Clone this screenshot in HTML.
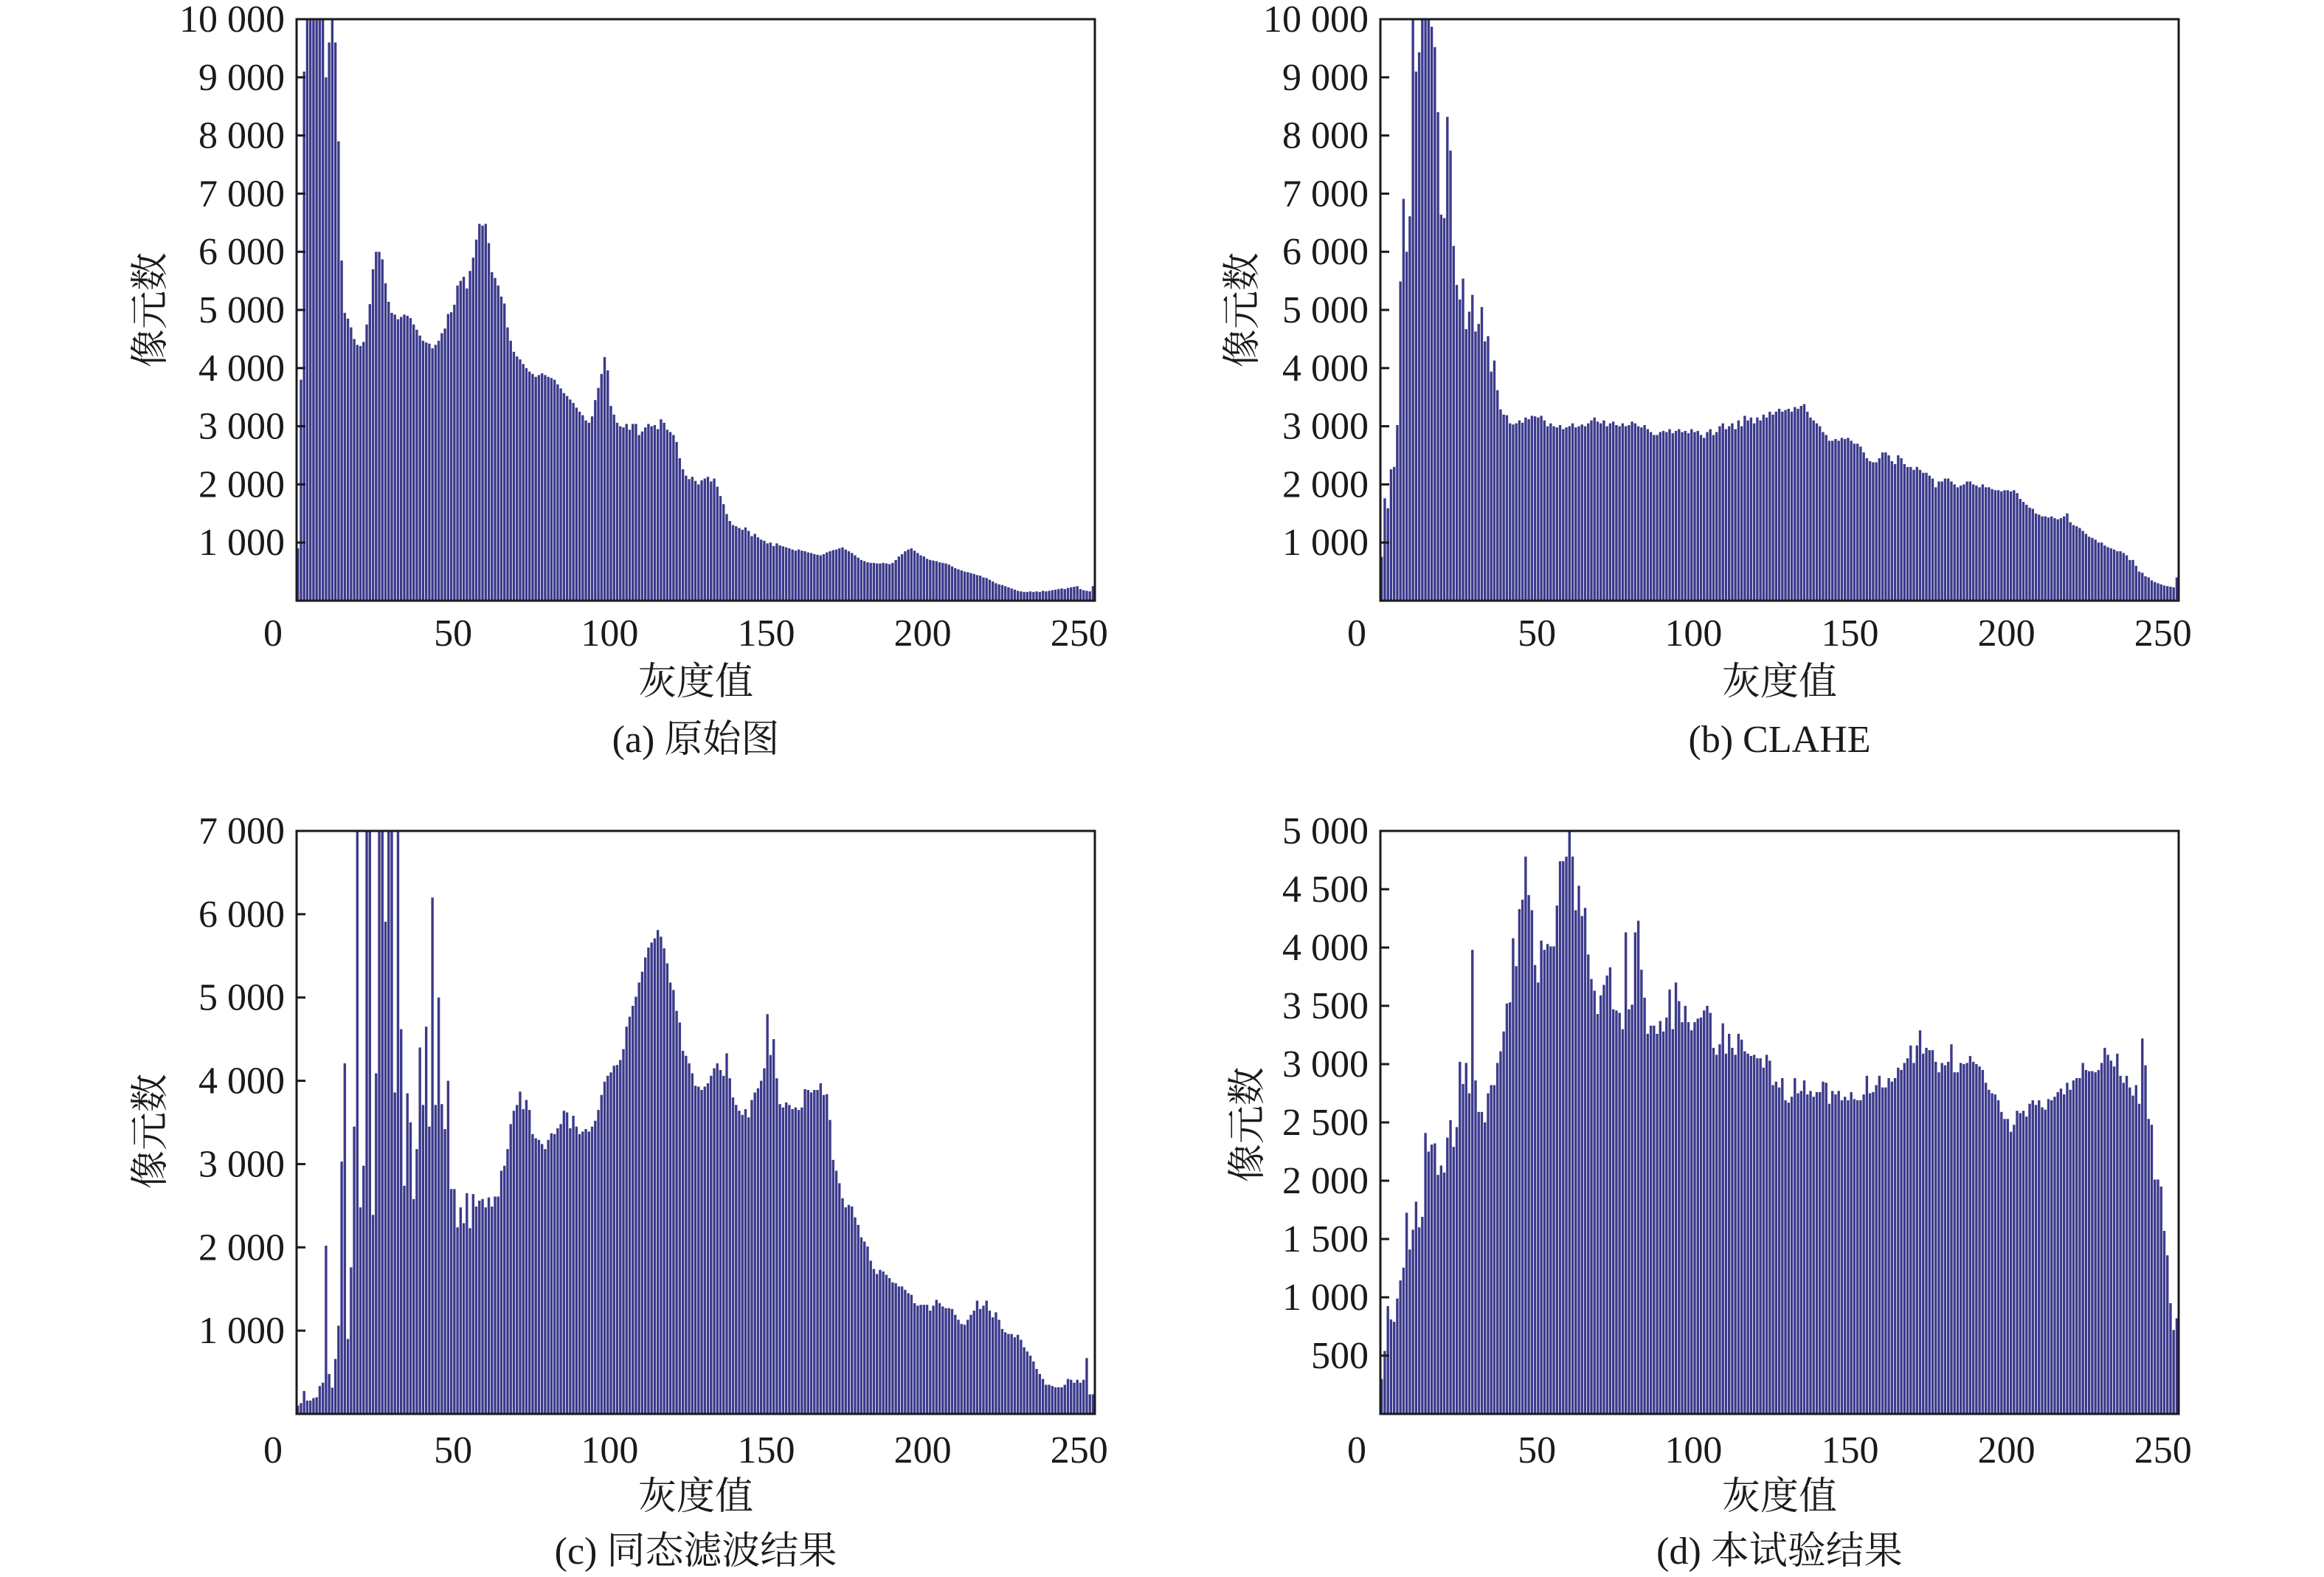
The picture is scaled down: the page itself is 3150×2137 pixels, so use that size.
<!DOCTYPE html>
<html><head><meta charset="utf-8">
<style>
html,body{margin:0;padding:0;background:#fff;}
svg{display:block;}
text{font-family:"Liberation Serif","Noto Serif CJK SC","Noto Sans CJK SC",serif;fill:#1a1a1a;}
</style></head>
<body>
<svg id="fig" width="3150" height="2137" viewBox="0 0 3150 2137" xmlns="http://www.w3.org/2000/svg"></svg>
<script>
// ---- data (pixel counts per gray level 0..255) ----
const grayLevels = Array.from({length:256},(_,i)=>i);
const originalCounts = [
900,3800,9100,10500,10500,10500,10500,10500,10500,9000,
9600,10500,9600,7900,5850,4950,4850,4700,4500,4400,
4380,4450,4750,5100,5700,6000,6000,5870,5460,5140,
4950,4920,4840,4880,4920,4900,4860,4750,4660,4560,
4470,4440,4420,4340,4400,4470,4600,4680,4930,4960,
5090,5420,5500,5570,5370,5670,5900,6210,6480,6450,
6480,6150,5650,5550,5420,5230,5110,4700,4470,4280,
4200,4150,4070,4000,3940,3900,3850,3880,3910,3880,
3850,3830,3800,3720,3650,3570,3520,3460,3400,3320,
3250,3190,3100,3060,3170,3450,3660,3900,4190,3960,
3350,3200,3060,3000,2980,3040,2940,3040,3040,2850,
2910,2980,3040,3000,3020,2950,3120,3060,2940,2900,
2850,2730,2450,2260,2150,2090,2130,2060,2000,2070,
2100,2130,2050,2100,1960,1800,1660,1490,1370,1300,
1280,1250,1220,1260,1200,1110,1150,1090,1050,1030,
985,1000,940,985,950,935,917,900,880,860,
880,860,850,830,820,800,790,780,800,830,
850,870,880,900,917,880,850,820,780,740,
700,680,660,650,650,640,640,650,640,630,
650,700,760,800,850,880,900,860,820,780,
760,720,700,690,680,660,650,640,620,590,
560,540,520,500,490,475,460,440,430,400,
390,360,330,300,280,270,250,230,210,190,
170,160,150,150,160,150,160,150,170,160,
170,180,190,200,210,200,220,230,240,250,
200,180,170,160,250,800];
const claheCounts = [
755,1760,1590,2260,2300,3020,5490,6910,6000,6610,
10500,9100,9430,10500,10500,10500,9870,9520,8400,6640,
6580,8320,7740,6100,5430,5180,5540,4670,4970,5260,
4630,4760,5050,4460,4550,3940,4130,3620,3290,3200,
3190,3050,3030,3050,3100,3060,3150,3120,3180,3170,
3150,3180,3100,3000,3050,3000,2980,3020,2950,2980,
3000,3050,2980,3000,3030,3000,3050,3100,3150,3080,
3050,3100,3000,3050,3080,3020,3000,3050,3000,3020,
3080,3050,3000,2980,3020,2950,2900,2850,2850,2900,
2920,2900,2950,2880,2920,2950,2900,2920,2880,2950,
2900,2920,2850,2800,2900,2950,2850,2900,3000,3050,
2950,3000,3050,2950,3100,3000,3180,3100,3150,3050,
3150,3100,3200,3150,3250,3200,3250,3300,3250,3280,
3300,3250,3330,3300,3350,3380,3250,3150,3100,3050,
3000,2900,2850,2750,2750,2780,2750,2800,2780,2800,
2750,2700,2700,2650,2550,2450,2400,2380,2380,2450,
2550,2550,2500,2400,2350,2500,2450,2350,2300,2300,
2250,2300,2250,2200,2200,2150,2100,1950,2050,2050,
2100,2100,2050,2000,1950,1980,2000,2050,2050,2000,
1980,1950,2000,1950,1950,1920,1900,1900,1880,1900,
1900,1880,1900,1850,1750,1700,1650,1600,1580,1500,
1480,1450,1450,1430,1450,1420,1400,1420,1450,1500,
1350,1300,1280,1250,1200,1150,1100,1080,1050,1000,
1000,950,920,900,880,850,850,820,780,700,
700,600,500,480,420,400,350,320,300,280,
260,250,240,230,400,1000];
const homomorphicCounts = [
100,130,275,160,160,190,200,335,375,2020,
480,315,660,1060,3030,4210,900,1760,3450,7500,
2480,2980,7500,7500,2390,4090,7500,7500,5910,7500,
7500,3860,7500,4620,2740,3850,3500,2580,3180,4400,
3710,4650,3450,6200,3710,5000,3720,3420,4000,2700,
2700,2240,2480,2290,2650,2230,2640,2490,2560,2580,
2480,2600,2490,2610,2610,2920,2980,3180,3480,3640,
3710,3870,3660,3770,3650,3360,3310,3290,3240,3180,
3290,3370,3360,3430,3480,3640,3620,3430,3580,3450,
3360,3390,3420,3390,3450,3520,3650,3830,3990,4060,
4100,4180,4190,4250,4380,4650,4770,4900,5010,5180,
5310,5480,5600,5660,5710,5810,5730,5590,5410,5180,
5090,4840,4700,4360,4300,4210,4090,3940,3930,3890,
3930,3970,4060,4150,4210,4130,4060,4330,4030,3800,
3710,3640,3590,3660,3560,3770,3860,3910,4000,4150,
4800,4310,4500,4030,3720,3680,3740,3710,3660,3680,
3650,3680,3900,3890,3860,3890,3890,3970,3830,3840,
3530,3050,2920,2770,2590,2480,2510,2490,2360,2270,
2120,2070,2010,1840,1740,1680,1730,1710,1670,1630,
1580,1570,1530,1530,1490,1450,1430,1330,1300,1310,
1310,1310,1240,1300,1370,1330,1290,1270,1270,1260,
1190,1130,1080,1070,1130,1190,1240,1360,1260,1300,
1360,1240,1160,1220,1130,1020,980,960,960,920,
950,890,800,750,700,630,540,480,420,350,
350,335,320,320,320,350,420,410,375,410,
375,410,670,235,235,150];
const proposedCounts = [
300,540,925,810,790,990,1145,1255,1725,1410,
1580,1820,1600,1690,2410,2250,2310,2320,2050,2130,
2070,2370,2520,2290,2460,3020,2830,3010,2750,3980,
2860,2590,2590,2500,2750,2820,2820,3010,3110,3280,
3520,3530,4080,3840,4330,4410,4780,4450,4320,3850,
3700,4060,3980,4030,4010,4010,4360,4740,4740,4780,
5100,4780,4320,4530,4270,4340,3940,3730,3630,3430,
3590,3680,3760,3830,3470,3460,3440,3300,4130,3470,
3510,4130,4230,3810,3570,3260,3330,3330,3260,3370,
3280,3400,3640,3300,3700,3540,3360,3500,3360,3290,
3360,3390,3400,3460,3500,3440,3140,3080,3170,3350,
3090,3260,3140,3080,3260,3210,3110,3090,3070,3080,
3050,3050,2970,3080,3030,2820,2850,2800,2880,2690,
2670,2720,2880,2750,2770,2860,2740,2770,2720,2760,
2760,2850,2840,2660,2770,2740,2770,2690,2720,2690,
2760,2700,2690,2690,2740,2900,2750,2760,2820,2900,
2800,2800,2880,2850,2880,2970,2950,3010,3050,3160,
3010,3160,3290,3090,3140,3120,3120,3020,2930,3010,
2990,3020,3170,2930,2930,3010,3000,3010,3070,3020,
3000,2980,2950,2840,2780,2750,2740,2690,2590,2530,
2530,2420,2480,2600,2580,2600,2550,2660,2690,2650,
2690,2630,2610,2700,2690,2720,2760,2790,2740,2840,
2780,2860,2880,2880,3010,2950,2940,2940,2930,2950,
3010,3140,3080,3030,2980,3090,2900,2840,2900,2800,
2730,2820,2660,3220,2990,2530,2480,2010,2010,1950,
1570,1360,950,720,820,1660];
const xTicks = [0,50,100,150,200,250];
const yTicksA = [1000,2000,3000,4000,5000,6000,7000,8000,9000,10000];
const yTicksC = [1000,2000,3000,4000,5000,6000,7000];
const yTicksD = [500,1000,1500,2000,2500,3000,3500,4000,4500,5000];

const NS="http://www.w3.org/2000/svg";
const svg=document.getElementById('fig');
function mk(tag,attrs,parent){const e=document.createElementNS(NS,tag);for(const k in attrs)e.setAttribute(k,attrs[k]);(parent||svg).appendChild(e);return e;}
function fmt(v){const s=String(v);return s.length>3?s.slice(0,s.length-3)+' '+s.slice(-3):s;}

function panel(cfg){
  const g=mk('g',{});
  
  
  const X0=cfg.x,Y0=cfg.y,W=1082,H=cfg.h;
  const xs=v=>X0+v*W/255;
  const ys=v=>Y0+H-Math.min(v,cfg.ymax)*H/cfg.ymax;
  const bw=W/255;
  const clipId='clip'+cfg.key;
  const cp=mk('clipPath',{id:clipId},g);
  mk('rect',{x:X0,y:Y0,width:W,height:H},cp);
  const bars=mk('g',{'clip-path':'url(#'+clipId+')'},g);
  
  
  cfg.values.forEach((v,i)=>{
    const r=mk('rect',{x:xs(grayLevels[i]).toFixed(2),y:ys(v).toFixed(2),width:(bw*0.8).toFixed(2),height:(Y0+H-ys(v)).toFixed(2),fill:'#3b3a8b'},bars);
    
    
  });
  const fr=mk('rect',{x:X0,y:Y0,width:W,height:H,fill:'none',stroke:'#1a1a1a','stroke-width':3},g);
  
  
  cfg.yticks.forEach(t=>{
    const y=ys(t);
    const tk=mk('line',{x1:X0,x2:X0+12,y1:y,y2:y,stroke:'#1a1a1a','stroke-width':3},g);
    
    
    const tx=mk('text',{x:X0-16,y:y+17,'font-size':52,'text-anchor':'end'},g);
    tx.textContent=fmt(t);
    
    
  });
  xTicks.forEach(t=>{
    const x=t===0?xs(t)-32:xs(t);
    const tx=mk('text',{x:x,y:cfg.tickY+18,'font-size':52,'text-anchor':'middle'},g);
    tx.textContent=String(t);
    
    
  });
  const xt=mk('text',{x:X0+W/2,y:cfg.titleY+19,'font-size':52,'text-anchor':'middle'},g);
  xt.textContent='灰度值';
  
  
  const yt=mk('text',{x:0,y:0,'font-size':52,'text-anchor':'middle',transform:'translate('+(cfg.ylabX+18)+','+cfg.ylabY+') rotate(-90)'},g);
  yt.textContent='像元数';
  
  
  const cap=mk('text',{x:X0+W/2,y:cfg.capY+19,'font-size':52,'text-anchor':'middle'},g);
  cap.textContent=cfg.caption;
  
  
}
panel({key:'a',name:'panel-original',x:402,y:26,h:788,ymax:10000,values:originalCounts,yticks:yTicksA,tickY:857,titleY:922,capY:1000,ylabX:203,ylabY:420,caption:'(a) 原始图'});
panel({key:'b',name:'panel-clahe',x:1871,y:26,h:788,ymax:10000,values:claheCounts,yticks:yTicksA,tickY:857,titleY:922,capY:1000,ylabX:1683,ylabY:420,caption:'(b) CLAHE'});
panel({key:'c',name:'panel-homomorphic',x:402,y:1126,h:790,ymax:7000,values:homomorphicCounts,yticks:yTicksC,tickY:1964,titleY:2026,capY:2100,ylabX:203,ylabY:1533,caption:'(c) 同态滤波结果'});
panel({key:'d',name:'panel-proposed',x:1871,y:1126,h:790,ymax:5000,values:proposedCounts,yticks:yTicksD,tickY:1964,titleY:2026,capY:2100,ylabX:1690,ylabY:1524,caption:'(d) 本试验结果'});
</script>
</body></html>
